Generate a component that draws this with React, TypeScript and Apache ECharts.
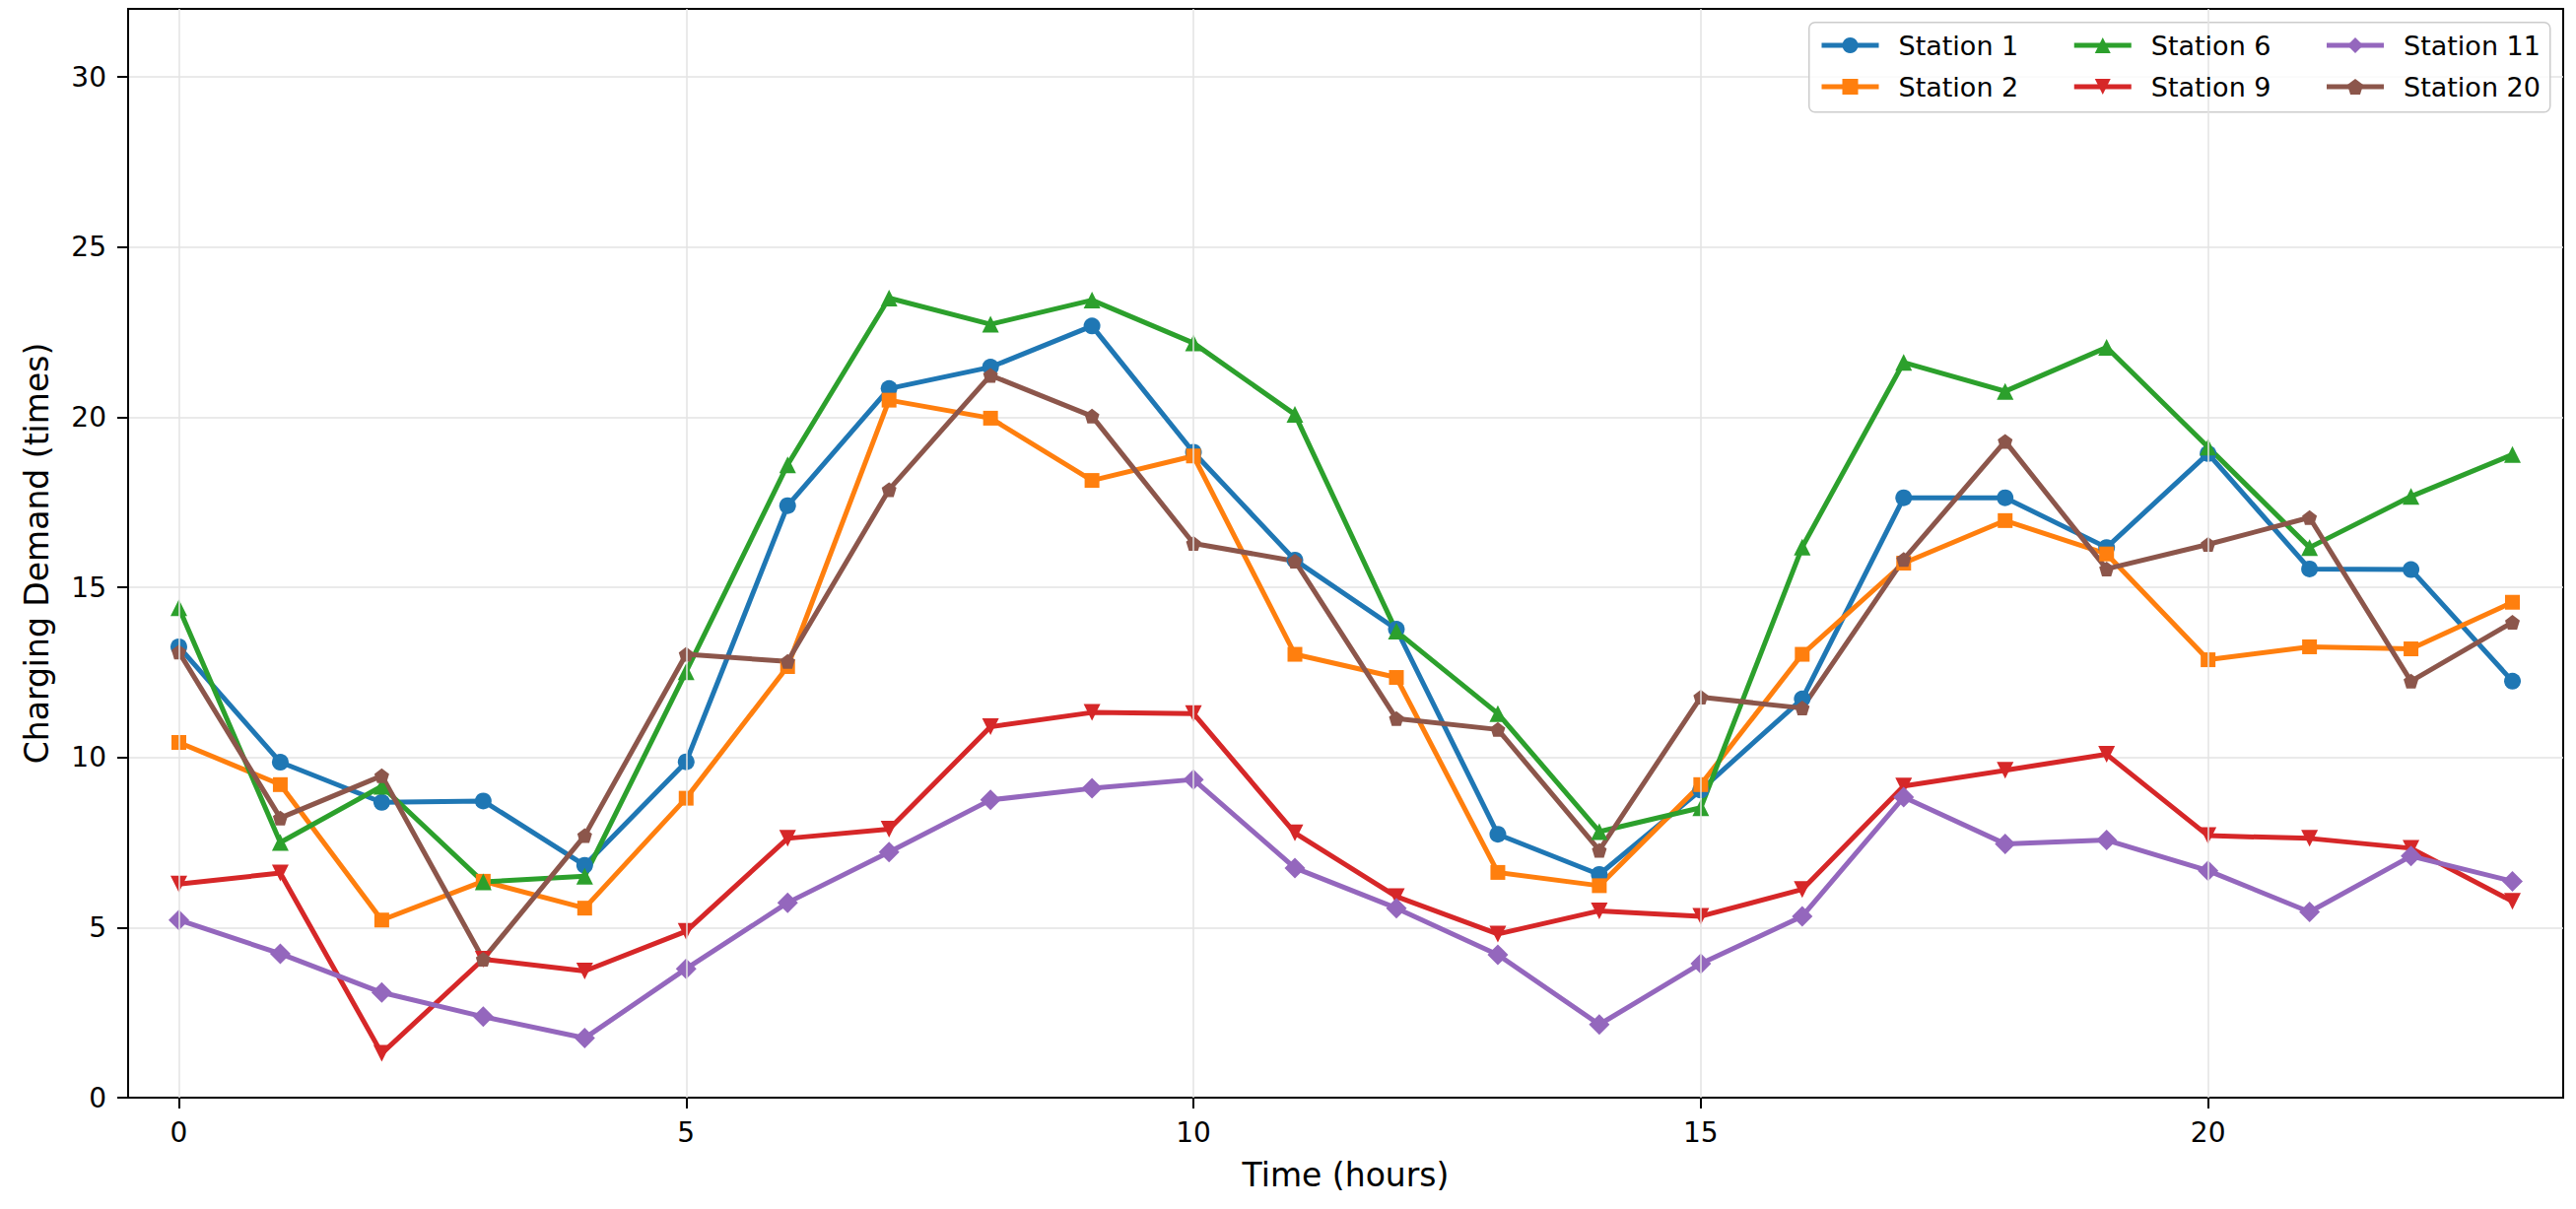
import React, { useEffect, useRef } from "react";
import * as echarts from "echarts";

const HOURS = [0, 1, 2, 3, 4, 5, 6, 7, 8, 9, 10, 11, 12, 13, 14, 15, 16, 17, 18, 19, 20, 21, 22, 23];

const station1 = [13.25, 9.86, 8.68, 8.72, 6.83, 9.87, 17.4, 20.84, 21.47, 22.68, 18.97, 15.8, 13.77, 7.74, 6.56, 9.04, 11.72, 17.63, 17.63, 16.17, 18.93, 15.54, 15.52, 12.24];
const station2 = [10.44, 9.2, 5.22, 6.36, 5.57, 8.8, 12.67, 20.5, 19.97, 18.14, 18.86, 13.03, 12.35, 6.62, 6.23, 9.2, 13.03, 15.71, 16.96, 15.98, 12.87, 13.25, 13.19, 14.56];
const station6 = [14.4, 7.5, 9.15, 6.34, 6.51, 12.52, 18.6, 23.5, 22.73, 23.44, 22.18, 20.08, 13.71, 11.29, 7.82, 8.52, 16.18, 21.61, 20.76, 22.05, 19.12, 16.17, 17.67, 18.9];
const station9 = [6.28, 6.6, 1.3, 4.07, 3.72, 4.89, 7.62, 7.89, 10.9, 11.32, 11.29, 7.78, 5.91, 4.81, 5.49, 5.33, 6.12, 9.16, 9.62, 10.09, 7.7, 7.62, 7.33, 5.77];
const station11 = [5.22, 4.23, 3.09, 2.38, 1.75, 3.79, 5.73, 7.22, 8.75, 9.09, 9.35, 6.75, 5.57, 4.2, 2.15, 3.94, 5.33, 8.83, 7.46, 7.57, 6.67, 5.46, 7.1, 6.36];
const station20 = [13.1, 8.22, 9.46, 4.07, 7.7, 13.03, 12.82, 17.87, 21.23, 20.03, 16.29, 15.77, 11.14, 10.82, 7.27, 11.77, 11.45, 15.82, 19.29, 15.54, 16.26, 17.05, 12.24, 13.97];

const X_TICKS = [0, 5, 10, 15, 20];
const Y_TICKS = [0, 5, 10, 15, 20, 25, 30];

const FONT = "DejaVu Sans";
const GRID_COLOR = "#e3e3e3";

// name, values, colour, symbol, size, rotate
const STATIONS: [string, number[], string, string, number, number][] = [
  ["Station 1", station1, "#1f77b4", "circle", 17, 0],
  ["Station 2", station2, "#ff7f0e", "rect", 15, 0],
  ["Station 6", station6, "#2ca02c", "triangle", 17, 0],
  ["Station 9", station9, "#d62728", "triangle", 17, 180],
  ["Station 11", station11, "#9467bd", "diamond", 21, 0],
  ["Station 20", station20, "#8c564b", "path://M5,0 L10,3.6 L8.1,9.5 L1.9,9.5 L0,3.6 Z", 15, 0],
];

const App: React.FC = () => {
  const chartRef = useRef<HTMLDivElement | null>(null);

  useEffect(() => {
    if (!chartRef.current) return;
    const chart = echarts.init(chartRef.current, null, { renderer: "svg" });

    const legendCommon = {
      orient: "horizontal" as const,
      left: 1846,
      padding: 0,
      itemWidth: 58,
      itemHeight: 20,
      itemGap: 54,
      z: 6,
      lineStyle: { width: 5 },
      textStyle: {
        fontFamily: FONT,
        fontSize: 27,
        color: "#000",
        lineHeight: 30,
        padding: [0, 0, 0, 15],
      },
    };

    const option: any = {
      animation: false,
      backgroundColor: "#fff",
      textStyle: { fontFamily: FONT },
      grid: {
        left: 130,
        right: 13,
        top: 9,
        bottom: 113,
        show: true,
        borderColor: "#000",
        borderWidth: 2,
        backgroundColor: "transparent",
      },
      legend: [
        { ...legendCommon, top: 31, data: ["Station 1", "Station 6", "Station 11"] },
        { ...legendCommon, top: 73, data: ["Station 2", "Station 9", "Station 20"] },
      ],
      graphic: [
        {
          type: "rect",
          left: 1835,
          top: 22,
          z: 5,
          shape: { width: 752, height: 91, r: 6 },
          style: { fill: "rgba(255,255,255,0.8)", stroke: "#cccccc", lineWidth: 1.5 },
        },
      ],
      xAxis: {
        type: "value",
        min: -0.5,
        max: 23.5,
        name: "Time (hours)",
        nameLocation: "middle",
        nameGap: 62,
        nameTextStyle: { fontFamily: FONT, fontSize: 33, color: "#000" },
        axisLine: { show: true, onZero: false, lineStyle: { color: "#000", width: 2 } },
        axisTick: { show: true, length: 11, customValues: X_TICKS, lineStyle: { color: "#000", width: 2 } },
        axisLabel: { customValues: X_TICKS, margin: 21, fontFamily: FONT, fontSize: 28, color: "#000" },
        splitLine: { show: false },
      },
      yAxis: {
        type: "value",
        min: 0,
        max: 32,
        interval: 5,
        name: "Charging Demand (times)",
        nameLocation: "middle",
        nameGap: 76,
        nameTextStyle: { fontFamily: FONT, fontSize: 33, color: "#000" },
        axisLine: { show: true, onZero: false, lineStyle: { color: "#000", width: 2 } },
        axisTick: { show: true, length: 11, customValues: Y_TICKS, lineStyle: { color: "#000", width: 2 } },
        axisLabel: { customValues: Y_TICKS, margin: 22, fontFamily: FONT, fontSize: 28, color: "#000" },
        splitLine: { show: true, lineStyle: { color: GRID_COLOR, width: 1.5 } },
      },
      series: [
        {
          name: "grid-x",
          type: "line",
          data: [],
          z: 1,
          silent: true,
          markLine: {
            silent: true,
            symbol: ["none", "none"],
            label: { show: false },
            lineStyle: { color: GRID_COLOR, width: 1.5, type: "solid" },
            data: X_TICKS.map((v) => ({ xAxis: v })),
          },
        },
        ...STATIONS.map(([name, values, color, symbol, size, rotate]) => ({
          name,
          type: "line",
          data: HOURS.map((h, i) => [h, values[i]]),
          symbol,
          symbolSize: size,
          symbolRotate: rotate,
          showSymbol: true,
          z: 3,
          itemStyle: { color, opacity: 1 },
          lineStyle: { color, width: 5 },
          emphasis: { disabled: true },
        })),
      ],
    };

    chart.setOption(option);

    return () => {
      chart.dispose();
    };
  }, []);

  return (
    <div
      ref={chartRef}
      style={{ position: "absolute", left: 0, top: 0, width: "2614px", height: "1227px" }}
    />
  );
};

export default App;
